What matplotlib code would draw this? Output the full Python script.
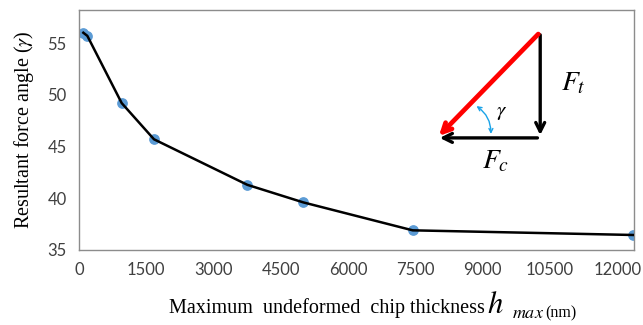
import matplotlib
matplotlib.use("Agg")
import matplotlib.pyplot as plt
from matplotlib.patches import FancyArrowPatch

# chip thickness (nm) and resultant force angle (deg)
h_max = [96, 185, 951, 1671, 3751, 5000, 7437, 12354]
gamma = [56.0, 55.7, 49.2, 45.7, 41.3, 39.6, 36.9, 36.45]

x_ticks = [0, 1500, 3000, 4500, 6000, 7500, 9000, 10500, 12000]
y_ticks = [35, 40, 45, 50, 55]

plt.rcParams['mathtext.fontset'] = 'stix'

fig = plt.figure(figsize=(6.43, 3.25), dpi=100)
ax = fig.add_axes([0.1229, 0.2308, 0.8631, 0.7385])

ax.scatter(h_max, gamma, s=45, color='#5B9BD5', zorder=2)
ax.plot(h_max, gamma, color='black', lw=1.8, zorder=3)

ax.set_xlim(0, 12370)
ax.set_ylim(35, 58.2)
ax.set_xticks(x_ticks)
ax.set_yticks(y_ticks)
ax.tick_params(length=0, labelsize=12, colors='#404040', pad=9)
for lab in ax.get_xticklabels() + ax.get_yticklabels():
    lab.set_family('Lato')
for sp in ax.spines.values():
    sp.set_color('#8c8c8c')
    sp.set_linewidth(1.0)

ax.set_ylabel(r'Resultant force angle ($\gamma$)', family='Liberation Serif',
              fontsize=14.5, labelpad=8)

# x label assembled from pieces
fig.text(0.263, 0.038, 'Maximum  undeformed  chip thickness', family='Liberation Serif',
         fontsize=14.5, ha='left', va='baseline')
fig.text(0.757, 0.038, r'$h$', fontsize=22, ha='left', va='baseline')
fig.text(0.796, 0.022, r'$max$', fontsize=13, ha='left', va='baseline')
fig.text(0.848, 0.022, '(nm)', family='Liberation Serif', fontsize=11.5,
         ha='left', va='baseline')

# force triangle inset (axes fraction)
top = (0.831, 0.908)
corner = (0.831, 0.467)
tip = (0.645, 0.467)
kw = dict(transform=ax.transAxes, mutation_scale=16, zorder=4)
ax.add_patch(FancyArrowPatch(top, corner, arrowstyle='->', color='black', lw=2.4, **kw))
ax.add_patch(FancyArrowPatch(corner, tip, arrowstyle='->', color='black', lw=2.4, **kw))
ax.add_patch(FancyArrowPatch(top, tip, arrowstyle='->', color='#ff0000', lw=3.4, **kw))
ax.add_patch(FancyArrowPatch((0.712, 0.606), (0.742, 0.472), arrowstyle='<->',
                             connectionstyle='arc3,rad=-0.3', color='#1aa3e8', lw=1.0,
                             transform=ax.transAxes, mutation_scale=7, zorder=5))

ax.text(0.869, 0.70, r'$F_t$', transform=ax.transAxes, fontsize=20, ha='left', va='center')
ax.text(0.727, 0.375, r'$F_c$', transform=ax.transAxes, fontsize=20, ha='left', va='center')
ax.text(0.752, 0.575, r'$\gamma$', transform=ax.transAxes, fontsize=15, ha='left', va='center')

fig.savefig('out.png', dpi=100)
